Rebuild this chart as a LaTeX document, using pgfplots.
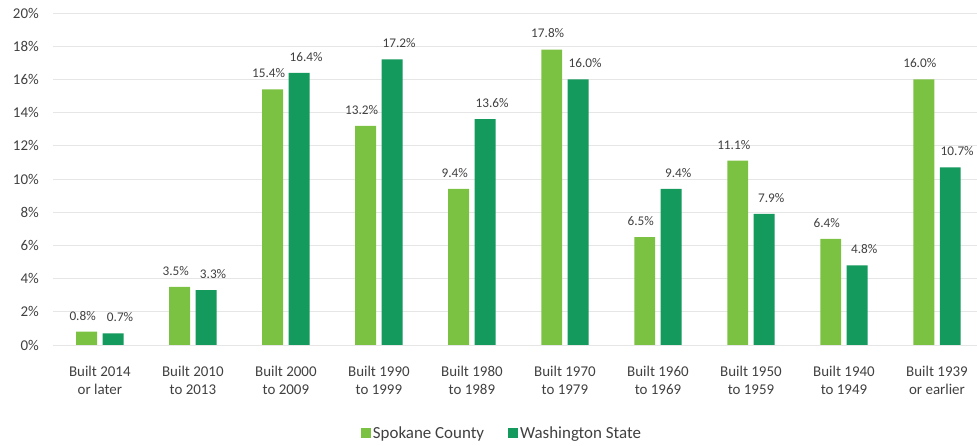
\documentclass[border=0pt]{standalone}
\usepackage{pgfplots}
\pgfplotsset{compat=1.18}
\usepackage{fontspec}
\setmainfont{Carlito}
\definecolor{spk}{HTML}{7CC242}
\definecolor{wa}{HTML}{149A5C}
\definecolor{txt}{HTML}{404040}
\definecolor{grd}{HTML}{E6E6E6}
\begin{document}
\begin{tikzpicture}
\begin{axis}[
  name=ax,
  scale only axis,
  width=923.65bp, height=332bp,
  xmin=-0.5, xmax=9.43,
  ymin=0, ymax=20,
  ytick={0,2,...,20},
  xtick={0,...,9},
  xticklabels={{Built 2014\\or later},{Built 2010\\to 2013},{Built 2000\\to 2009},{Built 1990\\to 1999},{Built 1980\\to 1989},{Built 1970\\to 1979},{Built 1960\\to 1969},{Built 1950\\to 1959},{Built 1940\\to 1949},{Built 1939\\or earlier}},
  xticklabel style={align=center, font=\fontsize{15}{17.5}\selectfont, text=txt, yshift=-18bp},
  yticklabel={\pgfmathprintnumber{\tick}\%},
  yticklabel style={font=\fontsize{15}{18}\selectfont, text=txt, xshift=-11bp},
  /pgf/number format/assume math mode=true,
  major tick length=0pt,
  axis line style={draw=none},
  ymajorgrids,
  grid style={grd, line width=0.8pt},
  ybar=5.5bp,
  bar width=0.225,
  nodes near coords={\pgfmathprintnumber[fixed,fixed zerofill,precision=1]{\pgfplotspointmeta}\%},
  nodes near coords style={font=\fontsize{13.3}{16}\selectfont, text=txt, /pgf/number format/assume math mode=true, yshift=8bp},
  legend style={draw=none, fill=none, legend columns=2, at={(0.4857,-0.265)}, anchor=center,
    font=\fontsize{17}{20}\selectfont, text=txt,
    /tikz/every even column/.append style={column sep=22bp}},
  legend image code/.code={\fill[#1] (0bp,-5bp) rectangle (10bp,5bp);},
]
\addplot[fill=spk, draw=none, nodes near coords style={xshift=-4bp}] coordinates {
(0,0.8) (1,3.5) (2,15.4) (3,13.2) (4,9.4) (5,17.8) (6,6.5) (7,11.1) (8,6.4) (9,16.0)};
\addplot[fill=wa, draw=none, nodes near coords style={xshift=7bp}] coordinates {
(0,0.7) (1,3.3) (2,16.4) (3,17.2) (4,13.6) (5,16.0) (6,9.4) (7,7.9) (8,4.8) (9,10.7)};
\legend{Spokane County, Washington State}
\end{axis}
\pgfresetboundingbox
\path ([xshift=-53.35bp, yshift=-101bp]ax.south west) rectangle ([yshift=13bp]ax.north east);
\end{tikzpicture}
\end{document}
